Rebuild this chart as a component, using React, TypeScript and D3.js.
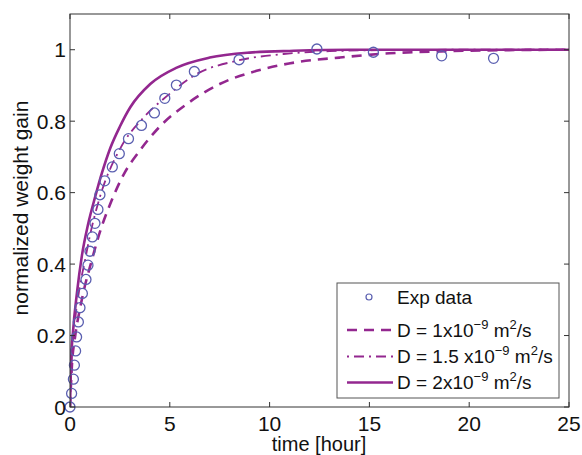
import React from "react";
import * as d3 from "d3";

// Experimental data
const expTime = [0, 0.08, 0.17, 0.22, 0.28, 0.33, 0.42, 0.5, 0.62, 0.8, 0.9, 1.0, 1.12, 1.25, 1.4, 1.5, 1.74, 2.12, 2.47, 2.93, 3.58, 4.23, 4.75, 5.33, 6.23, 8.47, 12.37, 15.2, 18.62, 21.22];
const expGain = [0, 0.038, 0.078, 0.117, 0.157, 0.196, 0.238, 0.278, 0.318, 0.357, 0.397, 0.436, 0.476, 0.514, 0.553, 0.594, 0.633, 0.672, 0.709, 0.751, 0.788, 0.823, 0.864, 0.901, 0.939, 0.972, 1.002, 0.993, 0.983, 0.976];

// D = 1e-9 (dashed)
const d1Time = [0, 0.1, 0.25, 0.5, 0.75, 1.0, 1.5, 2.1, 2.7, 3.5, 4.5, 5.85, 7.5, 9.35, 11.35, 13.5, 16, 19, 22, 25];
const d1Gain = [0, 0.12, 0.195, 0.275, 0.34, 0.392, 0.49, 0.58, 0.652, 0.718, 0.785, 0.848, 0.904, 0.941, 0.965, 0.978, 0.99, 0.996, 0.999, 1.0];

// D = 1.5e-9 (dash-dot)
const d15Time = [0, 0.1, 0.25, 0.5, 0.75, 1.0, 1.5, 2.5, 3.68, 4.85, 6.35, 8.35, 10.7, 13, 16, 20, 25];
const d15Gain = [0, 0.15, 0.24, 0.34, 0.41, 0.48, 0.588, 0.722, 0.81, 0.87, 0.932, 0.969, 0.988, 0.996, 0.999, 1.0, 1.0];

// D = 2e-9 (solid)
const d2Time = [0, 0.05, 0.15, 0.35, 0.6, 0.9, 1.27, 1.6, 2.02, 2.5, 3.02, 4.02, 5.35, 7.0, 9.0, 11.2, 14, 18, 25];
const d2Gain = [0, 0.12, 0.21, 0.32, 0.425, 0.51, 0.59, 0.655, 0.725, 0.785, 0.839, 0.904, 0.95, 0.978, 0.992, 0.997, 1.0, 1.0, 1.0];

const xTicks = [0, 5, 10, 15, 20, 25];
const yTicks = [0, 0.2, 0.4, 0.6, 0.8, 1];

const W = 582, H = 455;
const LEFT = 70, RIGHT = 569, TOP = 14, BOTTOM = 407;
const LINE = "#93278f";
const MARK = "#5a5fb0";
const AXIS = "#333";
const FONT = "'Liberation Sans', Arial, Helvetica, sans-serif";

export default function App() {
  const x = d3.scaleLinear().domain([0, 25]).range([LEFT, RIGHT]);
  const y = d3.scaleLinear().domain([0, 1.1]).range([BOTTOM, TOP]);
  const line = d3
    .line<[number, number]>()
    .x((d) => x(d[0]))
    .y((d) => y(d[1]))
    .curve(d3.curveMonotoneX);
  const zip = (a: number[], b: number[]) => a.map((t, i) => [t, b[i]] as [number, number]);

  const tickLen = 5;
  const legX = 337, legY = 283, legW = 222, legH = 115;
  const rows = [297, 330, 356.5, 382.5];
  const LF = 19;

  const sup = (base: string, y0: number) => (
    <text x={397} y={y0 + 6.5} fontSize={LF} fontFamily={FONT} fill="#111">
      {base}
      <tspan dy={-8} fontSize={13}>−9</tspan>
      <tspan dy={8}> m</tspan>
      <tspan dy={-8} fontSize={13}>2</tspan>
      <tspan dy={8}>/s</tspan>
    </text>
  );

  return (
    <svg width={W} height={H} style={{ position: "absolute", left: 0, top: 0, background: "#fff" }}>
      <rect x={0} y={0} width={W} height={H} fill="#fff" />
      <defs>
        <clipPath id="plot">
          <rect x={LEFT} y={TOP} width={RIGHT - LEFT} height={BOTTOM - TOP} />
        </clipPath>
      </defs>
      {/* curves */}
      <g clipPath="url(#plot)" fill="none" stroke={LINE}>
        <path d={line(zip(d1Time, d1Gain)) || ""} strokeWidth={2.6} strokeDasharray="10,7" />
        <path d={line(zip(d15Time, d15Gain)) || ""} strokeWidth={1.8} strokeDasharray="10,5,2,5" />
        <path d={line(zip(d2Time, d2Gain)) || ""} strokeWidth={2.6} />
      </g>
      {/* data */}
      <g fill="none" stroke={MARK} strokeWidth={1.3}>
        {expTime.map((t, i) => (
          <circle key={i} cx={x(t)} cy={y(expGain[i])} r={5} />
        ))}
      </g>
      {/* box */}
      <rect x={LEFT} y={TOP} width={RIGHT - LEFT} height={BOTTOM - TOP} fill="none" stroke={AXIS} strokeWidth={1} />
      {/* ticks */}
      <g stroke={AXIS} strokeWidth={1}>
        {xTicks.map((t) => (
          <g key={"x" + t}>
            <line x1={x(t)} x2={x(t)} y1={BOTTOM} y2={BOTTOM - tickLen} />
            <line x1={x(t)} x2={x(t)} y1={TOP} y2={TOP + tickLen} />
          </g>
        ))}
        {yTicks.map((t) => (
          <g key={"y" + t}>
            <line x1={LEFT} x2={LEFT + tickLen} y1={y(t)} y2={y(t)} />
            <line x1={RIGHT} x2={RIGHT - tickLen} y1={y(t)} y2={y(t)} />
          </g>
        ))}
      </g>
      <g fontFamily={FONT} fill="#111">
        {xTicks.map((t) => (
          <text key={"xl" + t} x={x(t)} y={431} textAnchor="middle" fontSize={21}>
            {t}
          </text>
        ))}
        {yTicks.map((t) => (
          <text key={"yl" + t} x={66} y={y(t) + 7.5} textAnchor="end" fontSize={21}>
            {String(t)}
          </text>
        ))}
        <text x={319} y={451} textAnchor="middle" fontSize={20}>time [hour]</text>
        <text transform={`translate(28,${208}) rotate(-90)`} textAnchor="middle" fontSize={21}>
          normalized weight gain
        </text>
      </g>
      {/* legend */}
      <rect x={legX} y={legY} width={legW} height={legH} fill="#fff" stroke="#555" strokeWidth={1} />
      <circle cx={369} cy={rows[0]} r={3} fill="none" stroke={MARK} strokeWidth={1.2} />
      <text x={397} y={rows[0] + 6.5} fontSize={LF} fontFamily={FONT} fill="#111">Exp data</text>
      <line x1={347} x2={393} y1={rows[1]} y2={rows[1]} stroke={LINE} strokeWidth={2.6} strokeDasharray="10,7" />
      {sup("D = 1x10", rows[1])}
      <line x1={347} x2={393} y1={rows[2]} y2={rows[2]} stroke={LINE} strokeWidth={1.8} strokeDasharray="2,5,10,5" />
      {sup("D = 1.5 x10", rows[2])}
      <line x1={347} x2={393} y1={rows[3]} y2={rows[3]} stroke={LINE} strokeWidth={2.6} />
      {sup("D = 2x10", rows[3])}
    </svg>
  );
}
